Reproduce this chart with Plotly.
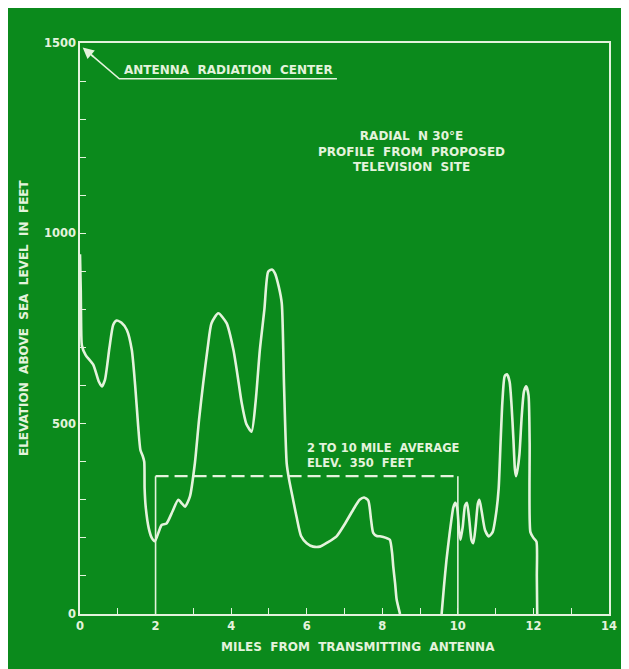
import plotly.graph_objects as go

# ---- data ----
seg1_miles = [0.00, 0.02, 0.03, 0.05, 0.15, 0.35, 0.50, 0.58, 0.66, 0.78, 0.88, 0.97, 1.10, 1.24,
              1.37, 1.46, 1.54, 1.60, 1.66, 1.70, 1.71, 1.74, 1.82, 1.90, 1.98, 2.08, 2.16, 2.29,
              2.45, 2.60, 2.70, 2.78, 2.91, 3.04, 3.15, 3.26, 3.38, 3.48, 3.66, 3.88, 4.06, 4.18,
              4.28, 4.40, 4.54, 4.65, 4.76, 4.88, 4.98, 5.08, 5.16, 5.26, 5.34, 5.40, 5.47, 5.53,
              5.64, 5.73, 5.85, 6.00, 6.17, 6.35, 6.55, 6.79, 7.00, 7.23, 7.40, 7.52, 7.63, 7.70,
              7.76, 7.85, 7.94, 8.10, 8.20, 8.26, 8.29, 8.34, 8.38, 8.47]
seg1_feet = [945, 850, 760, 705, 680, 655, 610, 598, 615, 700, 760, 771, 765, 746,
             694, 600, 493, 430, 415, 400, 330, 280, 225, 200, 191, 215, 234, 238,
             270, 300, 290, 282, 309, 396, 510, 606, 700, 764, 790, 764, 694, 620,
             554, 500, 479, 560, 694, 800, 899, 905, 895, 860, 816, 600, 396, 355,
             300, 256, 205, 186, 177, 177, 188, 204, 235, 274, 300, 306, 298, 250,
             213, 205, 204, 200, 195, 160, 125, 80, 38, 0]

seg2_miles = [9.57, 9.63, 9.70, 9.78, 9.83, 9.88, 9.93, 9.98, 10.03, 10.07, 10.13, 10.19, 10.24,
              10.30, 10.36, 10.41, 10.47, 10.53, 10.57, 10.63, 10.72, 10.82, 10.92, 11.02, 11.08,
              11.13, 11.18, 11.24, 11.30, 11.37, 11.42, 11.47, 11.51, 11.54, 11.58, 11.63, 11.69,
              11.75, 11.81, 11.87, 11.90, 11.92, 12.00, 12.08, 12.09, 12.10]
seg2_feet = [0, 70, 143, 210, 248, 280, 292, 280, 220, 195, 230, 285, 292,
             250, 195, 186, 230, 290, 300, 270, 220, 204, 215, 270, 330,
             450, 560, 625, 630, 610, 550, 460, 380, 362, 380, 420, 520,
             585, 598, 575, 450, 215, 200, 190, 100, 0]

avg_start_mile = 2
avg_end_mile = 10
avg_elev_drawn = 362

x_tick_vals = list(range(0, 15))
x_tick_text = [str(v) if v % 2 == 0 else "" for v in x_tick_vals]
y_tick_vals = list(range(0, 1501, 100))
y_tick_text = [str(v) if v % 500 == 0 else "" for v in y_tick_vals]

# ---- styling ----
BG = "#0b8a1c"
INK = "#e4f3dc"
FONT = "DejaVu Sans"
W = "bold"

fig = go.Figure()

# profile
fig.add_trace(go.Scatter(
    x=seg1_miles + [None] + seg2_miles,
    y=seg1_feet + [None] + seg2_feet,
    mode="lines", line=dict(color=INK, width=2.6, shape="spline", smoothing=0.6),
    connectgaps=False, hoverinfo="skip", showlegend=False))

# average box: solid verticals, dashed top
fig.add_trace(go.Scatter(x=[avg_start_mile, avg_start_mile], y=[0, avg_elev_drawn],
                         mode="lines", line=dict(color=INK, width=1.6), showlegend=False))
fig.add_trace(go.Scatter(x=[avg_end_mile, avg_end_mile], y=[0, avg_elev_drawn],
                         mode="lines", line=dict(color=INK, width=1.6), showlegend=False))
fig.add_trace(go.Scatter(x=[avg_start_mile, avg_end_mile], y=[avg_elev_drawn, avg_elev_drawn],
                         mode="lines", line=dict(color=INK, width=2.2, dash="13px,6px"),
                         showlegend=False))

# antenna radiation centre leader
fig.add_trace(go.Scatter(x=[6.8, 1.04, 0.3], y=[1406, 1406, 1469],
                         mode="lines", line=dict(color=INK, width=1.6), showlegend=False))
fig.add_annotation(x=0.07, y=1488, ax=0.4, ay=1460, xref="x", yref="y", axref="x", ayref="y",
                   text="", showarrow=True, arrowhead=2, arrowsize=1.4, arrowwidth=1.6,
                   arrowcolor=INK)

fig.add_annotation(x=1.1, y=1429, xref="x", yref="y", text="ANTENNA  RADIATION  CENTER",
                   showarrow=False, xanchor="left", yanchor="middle",
                   font=dict(family=FONT, size=12, color=INK, weight=W))
fig.add_annotation(x=8.77, y=1216, xref="x", yref="y",
                   text="RADIAL  N 30°E<br>PROFILE  FROM  PROPOSED<br>TELEVISION  SITE",
                   showarrow=False, xanchor="center", yanchor="middle", align="center",
                   font=dict(family=FONT, size=12, color=INK, weight=W))
fig.add_annotation(x=5.95, y=416, xref="x", yref="y",
                   text="2 TO 10 MILE  AVERAGE<br>ELEV.  350  FEET",
                   showarrow=False, xanchor="left", yanchor="middle", align="left",
                   font=dict(family=FONT, size=11.5, color=INK, weight=W))

# axis titles
fig.add_annotation(x=0.526, y=-0.057, xref="paper", yref="paper",
                   text="MILES  FROM  TRANSMITTING  ANTENNA", showarrow=False,
                   xanchor="center", yanchor="middle",
                   font=dict(family=FONT, size=12, color=INK, weight=W))
fig.add_annotation(x=-0.106, y=0.52, xref="paper", yref="paper", textangle=-90,
                   text="ELEVATION  ABOVE  SEA  LEVEL  IN  FEET", showarrow=False,
                   xanchor="center", yanchor="middle",
                   font=dict(family=FONT, size=12, color=INK, weight=W))

axis_common = dict(showgrid=False, zeroline=False, showline=True, linecolor=INK, linewidth=1.6,
                   mirror=True, ticks="inside", ticklen=6, tickwidth=1.4, tickcolor=INK,
                   tickmode="array", tickfont=dict(family=FONT, size=11.5, color=INK, weight=W))

fig.update_xaxes(range=[0, 14], tickvals=x_tick_vals, ticktext=x_tick_text, **axis_common)
fig.update_yaxes(range=[0, 1500], tickvals=y_tick_vals, ticktext=y_tick_text, **axis_common)

# page body has an 8px margin, so the figure is sized to fit the window with it
fig.update_layout(width=621, height=661, paper_bgcolor=BG, plot_bgcolor=BG,
                  margin=dict(l=72, r=20, t=35, b=55), showlegend=False)

fig.write_html("out.html")
